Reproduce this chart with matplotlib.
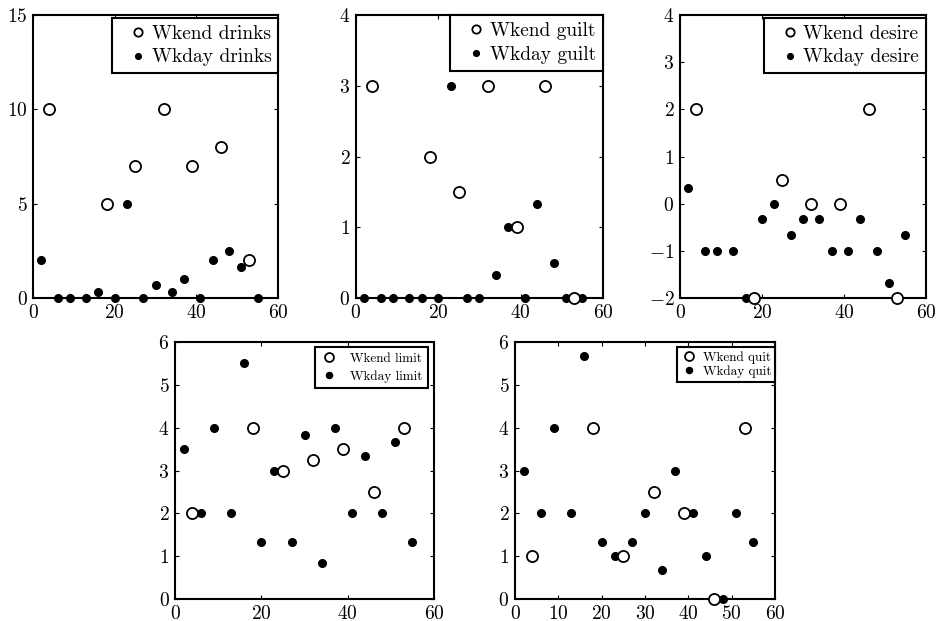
import numpy as np
import matplotlib
matplotlib.use("Agg")
import matplotlib.pyplot as plt

plt.rcParams["font.family"] = "serif"
plt.rcParams["font.serif"] = ["cmr10", "DejaVu Serif"]
plt.rcParams["mathtext.fontset"] = "cm"
plt.rcParams["axes.formatter.use_mathtext"] = True

# sample positions (days)
wkday_x = [2, 6, 9, 13, 16, 20, 23, 27, 30, 34, 37, 41, 44, 48, 51, 55]
wkend_x = [4, 18, 25, 32, 39, 46, 53]

# weekday / weekend values per measure
wkday_drinks = [2, 0, 0, 0, 0.33, 0, 5, 0, 0.67, 0.33, 1, 0, 2, 2.5, 1.67, 0]
wkend_drinks = [10, 5, 7, 10, 7, 8, 2]

wkday_guilt = [0, 0, 0, 0, 0, 0, 3, 0, 0, 0.33, 1, 0, 1.33, 0.5, 0, 0]
wkend_guilt = [3, 2, 1.5, 3, 1, 3, 0]

wkday_desire = [0.33, -1, -1, -1, -2, -0.33, 0, -0.67, -0.33, -0.33, -1, -1, -0.33, -1, -1.67, -0.67]
wkend_desire = [2, -2, 0.5, 0, 0, 2, -2]

wkday_limit = [3.5, 2, 4, 2, 5.5, 1.33, 3, 1.33, 3.83, 0.83, 4, 2, 3.33, 2, 3.67, 1.33]
wkend_limit = [2, 4, 3, 3.25, 3.5, 2.5, 4]

wkday_quit = [3, 2, 4, 2, 5.67, 1.33, 1, 1.33, 2, 0.67, 3, 2, 1, 0, 2, 1.33]
wkend_quit = [1, 4, 1, 2.5, 2, 0, 4]

# legend styles: big matlab-ish ones on top, small ones below
top_leg = dict(fontsize=14, handlelength=2.0, handletextpad=-0.3, borderpad=0.35,
               labelspacing=0.3, borderaxespad=0, markerscale=0.75)
limit_leg = dict(fontsize=9.5, handlelength=1.4, handletextpad=0.9, borderpad=0.4,
                 labelspacing=0.4, borderaxespad=0, markerscale=0.8)
quit_leg = dict(fontsize=9.5, handlelength=1.2, handletextpad=0.4, borderpad=0.3,
                labelspacing=0.1, borderaxespad=0, markerscale=0.8)

panels = [
    ("drinks", wkend_drinks, wkday_drinks, [0, 15], [0, 5, 10, 15], [0, 20, 40, 60],
     top_leg, (1, 0.99), [0.0353, 0.520, 0.2618, 0.4557]),
    ("guilt", wkend_guilt, wkday_guilt, [0, 4], [0, 1, 2, 3, 4], [0, 20, 40, 60],
     top_leg, (1, 1), [0.3803, 0.520, 0.2639, 0.4557]),
    ("desire", wkend_desire, wkday_desire, [-2, 4], [-2, -1, 0, 1, 2, 3, 4], [0, 20, 40, 60],
     top_leg, (1, 0.99), [0.7265, 0.520, 0.2628, 0.4557]),
    ("limit", wkend_limit, wkday_limit, [0, 6], [0, 1, 2, 3, 4, 5, 6], [0, 20, 40, 60],
     limit_leg, (0.977, 0.98), [0.187, 0.0354, 0.2767, 0.4138]),
    ("quit", wkend_quit, wkday_quit, [0, 6], [0, 1, 2, 3, 4, 5, 6], [0, 10, 20, 30, 40, 50, 60],
     quit_leg, (1, 0.98), [0.5502, 0.0354, 0.2778, 0.4138]),
]

fig = plt.figure(figsize=(9.36, 6.21), dpi=100)

for name, wkend, wkday, ylim, yticks, xticks, legkw, anchor, pos in panels:
    ax = fig.add_axes(pos)
    ax.plot(wkday_x, wkday, "o", color="black", markersize=5.5, clip_on=False,
            label="Wkday " + name, zorder=3)
    ax.plot(wkend_x, wkend, "o", markerfacecolor="white", markeredgecolor="black",
            markeredgewidth=1.3, markersize=8, clip_on=False, label="Wkend " + name, zorder=4)
    ax.set_xlim(0, 60)
    ax.set_ylim(*ylim)
    ax.set_xticks(xticks)
    ax.set_yticks(yticks)
    ax.tick_params(direction="in", top=True, right=True, length=3, labelsize=14, pad=4)
    for s in ax.spines.values():
        s.set_linewidth(1.5)
    h, l = ax.get_legend_handles_labels()
    leg = ax.legend(h[::-1], l[::-1], loc="upper right", bbox_to_anchor=anchor,
                    fancybox=False, framealpha=1, edgecolor="black", **legkw)
    leg.get_frame().set_linewidth(1.5)

fig.savefig("out.png", dpi=100)
